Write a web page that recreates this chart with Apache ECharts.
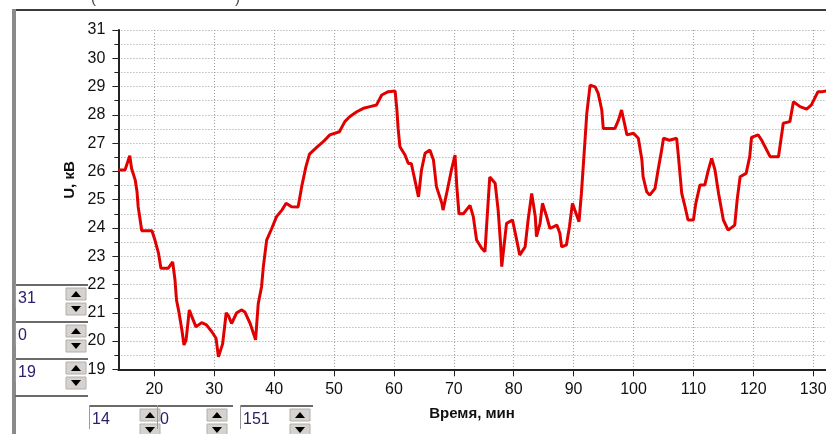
<!DOCTYPE html>
<html><head><meta charset="utf-8">
<script src="https://cdn.jsdelivr.net/npm/echarts@6/dist/echarts.min.js"></script>
<style>html,body{margin:0;padding:0;background:#fff;}#c{width:826px;height:434px;}</style>
</head><body><div id="c"></div>
<script>
const times = [14.0,15.1,15.9,16.2,16.8,17.1,17.3,17.9,19.6,20.1,20.7,21.1,22.3,23.06,23.45,23.7,24.1,24.6,24.95,25.3,25.84,26.2,26.95,27.9,28.7,29.6,30.3,30.7,31.0,31.4,32.0,32.4,32.9,33.75,34.6,35.1,36.0,36.9,37.35,37.9,38.2,38.75,39.6,40.4,41.3,42.0,42.9,44.0,44.6,45.3,45.9,47.1,48.2,49.3,50.9,51.8,52.6,53.8,54.9,56.0,57.1,57.96,59.06,60.2,60.5,60.7,61.0,61.85,62.4,62.9,63.5,64.1,64.6,65.2,66.0,66.6,67.1,68.0,68.2,68.8,69.6,70.2,70.5,70.86,71.6,72.7,73.25,73.8,74.65,75.2,75.75,76.0,76.9,77.4,77.8,78.0,78.4,78.8,79.8,80.5,81.0,81.9,82.4,83.0,83.6,83.8,84.4,84.8,85.5,86.05,87.2,87.7,88.0,88.8,89.3,89.8,90.2,90.9,91.3,91.6,91.9,92.2,92.75,93.0,93.6,94.1,94.7,94.95,96.9,97.5,98.0,98.3,98.9,100.0,100.8,101.4,101.6,102.2,102.7,103.6,104.1,104.7,105.0,106.0,107.2,107.5,108.05,108.6,109.1,110.0,110.4,111.1,111.9,112.5,113.05,113.6,114.2,115.0,115.8,116.9,117.3,117.8,118.8,119.4,119.7,120.8,121.4,122.8,124.2,124.6,125.0,126.1,126.7,127.8,128.9,129.7,130.8,131.6,133.0];
const volts = [26.05,26.05,26.55,26.1,25.7,25.3,24.75,23.9,23.9,23.57,23.1,22.57,22.57,22.8,22.16,21.45,21.03,20.39,19.86,20.04,21.1,20.9,20.5,20.65,20.57,20.33,20.1,19.44,19.4,19.9,21.0,20.88,20.62,21.0,21.1,21.03,20.62,20.04,21.33,21.92,22.63,23.57,23.98,24.4,24.63,24.87,24.75,24.74,25.46,26.16,26.61,26.85,27.05,27.29,27.4,27.76,27.93,28.11,28.23,28.29,28.35,28.7,28.82,28.84,28.17,27.52,26.87,26.58,26.28,26.28,25.69,25.1,26.05,26.64,26.76,26.4,25.46,24.87,24.63,25.22,26.05,26.58,25.46,24.5,24.5,24.8,24.4,23.57,23.28,23.16,24.99,25.8,25.58,24.63,23.45,22.63,23.4,24.16,24.28,23.57,23.04,23.33,24.28,25.22,24.4,23.69,24.16,24.87,24.4,23.98,24.1,23.81,23.33,23.4,24.04,24.87,24.63,24.22,25.22,26.16,27.1,28.05,29.05,29.11,28.99,28.76,28.17,27.52,27.52,27.82,28.17,27.88,27.29,27.35,27.17,26.4,25.81,25.28,25.16,25.4,26.05,26.76,27.17,27.1,27.17,26.52,25.22,24.75,24.28,24.28,24.87,25.52,25.52,26.05,26.46,26.05,25.22,24.28,23.92,24.1,24.99,25.81,25.93,26.52,27.2,27.29,27.1,26.52,26.52,27.1,27.7,27.76,28.46,28.29,28.2,28.35,28.82,28.82,28.88];
const xTicks = [20,30,40,50,60,70,80,90,100,110,120,130,140,150];
const xMin = 14, xMax = 151, yMin = 19, yMax = 31;
const xName = 'Время, мин';
const yName = 'U, кВ';
const spinLeft = ['31','0','19'];
const spinBottom = ['14','0','151'];

const FONT = '"Liberation Sans",Arial,sans-serif';
const data = times.map((t,i)=>[t, volts[i]]);

const chart = echarts.init(document.getElementById('c'), null, {renderer:'canvas'});

function spinner(x, y, w, text, btnX) {
  const els = [];
  els.push({type:'rect', shape:{x:x, y:y, width:w, height:2}, style:{fill:'#6a6a6a'}});
  els.push({type:'rect', shape:{x:x, y:y, width:1, height:24}, style:{fill:'#9a9a9a'}});
  els.push({type:'text', style:{text:text, x:x+3, y:y+15, fill:'#2a2070', font:'16px '+FONT, verticalAlign:'middle'}});
  els.push({type:'rect', shape:{x:btnX, y:y+4, width:20, height:12}, style:{fill:'#d6d3ce', stroke:'#b0b0b0', lineWidth:1}});
  els.push({type:'polygon', shape:{points:[[btnX+5,y+13],[btnX+15,y+13],[btnX+10,y+7]]}, style:{fill:'#000'}});
  els.push({type:'rect', shape:{x:btnX, y:y+19, width:20, height:12}, style:{fill:'#d6d3ce', stroke:'#b0b0b0', lineWidth:1}});
  els.push({type:'polygon', shape:{points:[[btnX+5,y+22],[btnX+15,y+22],[btnX+10,y+28]]}, style:{fill:'#000'}});
  return els;
}

let graphics = [
  {type:'rect', shape:{x:13, y:9, width:813, height:2}, style:{fill:'#3a3a3a'}},
  {type:'rect', shape:{x:12, y:9, width:4, height:425}, style:{fill:'#8a8a8a'}},
  {type:'text', style:{text:'(', x:91, y:-9, fill:'#444', font:'15px '+FONT}},
  {type:'text', style:{text:')', x:235, y:-9, fill:'#444', font:'15px '+FONT}},
  {type:'text', style:{text:xName, x:472, y:414, fill:'#111', font:'bold 15px '+FONT, align:'center', verticalAlign:'middle'}},
  {type:'text', x:70, y:180, rotation:Math.PI/2, style:{text:yName, x:0, y:0, fill:'#111', font:'bold 15px '+FONT, align:'center', verticalAlign:'middle'}}
];
graphics = graphics.concat(spinner(15, 284, 73, spinLeft[0], 66));
graphics = graphics.concat(spinner(15, 321, 73, spinLeft[1], 66));
graphics = graphics.concat(spinner(15, 358, 73, spinLeft[2], 66));
graphics.push({type:'rect', shape:{x:15, y:395, width:73, height:2}, style:{fill:'#6a6a6a'}});
graphics = graphics.concat(spinner(89, 405, 70, spinBottom[0], 140));
graphics = graphics.concat(spinner(157, 405, 76, spinBottom[1], 207));
graphics = graphics.concat(spinner(240, 405, 73, spinBottom[2], 290));

const gridColor = '#9c9c9c';
chart.setOption({
  animation:false,
  grid:{left:118.4, top:30, width:820.6, height:339.3, containLabel:false, outerBoundsMode:'none'},
  xAxis:{
    type:'value', min:xMin, max:xMax,
    axisLine:{show:true, lineStyle:{color:'#222', width:2}},
    axisTick:{show:true, customValues:xTicks, length:7, lineStyle:{color:'#222', width:1}},
    axisLabel:{customValues:xTicks, color:'#111', fontSize:16, fontFamily:FONT, margin:12},
    splitLine:{show:true, lineStyle:{color:gridColor, type:[1,2], width:1}}
  },
  yAxis:{
    type:'value', min:yMin, max:yMax, interval:1,
    axisLine:{show:true, lineStyle:{color:'#222', width:2}},
    axisTick:{show:true, length:6, lineStyle:{color:'#222', width:1}},
    minorTick:{show:true, splitNumber:2, length:4, lineStyle:{color:'#222', width:1}},
    axisLabel:{color:'#111', fontSize:16, fontFamily:FONT, margin:13},
    splitLine:{show:true, lineStyle:{color:gridColor, type:[1,2], width:1}},
    minorSplitLine:{show:true, lineStyle:{color:gridColor, type:[1,2], width:1}}
  },
  series:[{
    type:'line', data:data, showSymbol:false, symbol:'none',
    lineStyle:{color:'#e00000', width:3}, clip:true
  }],
  graphic:graphics
});
</script></body></html>
